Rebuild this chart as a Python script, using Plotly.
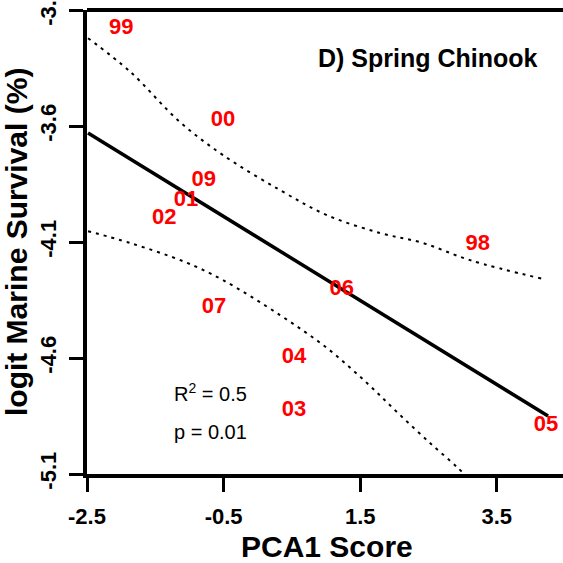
import plotly.graph_objects as go

# Data
years = ["99", "00", "09", "01", "02", "98", "06", "07", "04", "03", "05"]
pca1 = [-2.00, -0.51, -0.79, -1.05, -1.37, 3.22, 1.23, -0.64, 0.53, 0.53, 4.22]
logit_surv = [-3.18, -3.574, -3.833, -3.919, -3.997, -4.109, -4.303, -4.384, -4.596, -4.828, -4.892]

fit_x = [-2.485, 4.25]
fit_y = [-3.630, -4.850]

upper_x = [-2.485, -1.870, -1.138, -0.509, 0.326, 1.014, 1.790, 2.419, 3.108, 4.176]
upper_y = [-3.221, -3.365, -3.583, -3.725, -3.876, -3.984, -4.061, -4.104, -4.178, -4.259]

lower_x = [-2.485, -1.870, -1.065, -0.509, 0.326, 1.014, 1.600, 2.053, 2.522, 2.917, 2.990]
lower_y = [-4.053, -4.104, -4.186, -4.264, -4.415, -4.557, -4.708, -4.837, -4.966, -5.070, -5.091]

x_ticks = [-2.5, -0.5, 1.5, 3.5]
y_ticks = [-5.1, -4.6, -4.1, -3.6, -3.1]

FONT = "Arial, Liberation Sans, sans-serif"

fig = go.Figure()
fig.add_trace(go.Scatter(x=upper_x, y=upper_y, mode="lines", line_shape="spline",
                         line=dict(color="black", width=2, dash="3px,5px"), hoverinfo="skip"))
fig.add_trace(go.Scatter(x=lower_x, y=lower_y, mode="lines", line_shape="spline",
                         line=dict(color="black", width=2, dash="3px,5px"), hoverinfo="skip"))
fig.add_trace(go.Scatter(x=fit_x, y=fit_y, mode="lines",
                         line=dict(color="black", width=3.5), hoverinfo="skip"))
fig.add_trace(go.Scatter(x=pca1, y=logit_surv, mode="text", text=years,
                         textfont=dict(family=FONT, size=22, color="#ff0000", weight="bold"),
                         textposition="middle center"))

fig.add_annotation(x=0.1786, y=0.176, xref="paper", yref="paper", text="R<sup>2</sup> = 0.5",
                   xanchor="left", yanchor="middle", showarrow=False,
                   font=dict(family=FONT, size=20, color="black"))
fig.add_annotation(x=0.1786, y=0.091, xref="paper", yref="paper", text="p = 0.01",
                   xanchor="left", yanchor="middle", showarrow=False,
                   font=dict(family=FONT, size=20, color="black"))
fig.add_annotation(x=0.716, y=0.897, xref="paper", yref="paper", text="D) Spring Chinook",
                   xanchor="center", yanchor="middle", showarrow=False,
                   font=dict(family=FONT, size=25, color="black", weight="bold"))

# axis titles
fig.add_annotation(x=0.504, y=-0.1595, yshift=2, xref="paper", yref="paper", text="PCA1 Score",
                   xanchor="center", yanchor="middle", showarrow=False,
                   font=dict(family=FONT, size=30, color="black", weight="bold"))
fig.add_annotation(x=-0.126, y=0.5, xshift=-11, xref="paper", yref="paper",
                   text="logit Marine Survival (%)",
                   textangle=-90, xanchor="center", yanchor="middle", showarrow=False,
                   font=dict(family=FONT, size=30, color="black", weight="bold"))

fig.add_shape(type="line", xref="paper", yref="paper", x0=0, x1=1, y0=1, y1=1,
              line=dict(color="black", width=4))

fig.update_layout(
    width=563, height=563,
    margin=dict(l=87, r=0, t=10, b=89, autoexpand=False),
    plot_bgcolor="white", paper_bgcolor="white",
    showlegend=False,
    xaxis=dict(range=[-2.5, 4.469], tickvals=x_ticks, ticktext=[str(v) for v in x_ticks],
               showgrid=False, zeroline=False, showline=True, linecolor="black", linewidth=4,
               ticks="outside", ticklen=14, tickwidth=3, tickcolor="black", automargin=False,
               tickfont=dict(family=FONT, size=22, color="black", weight="bold"),
               ticklabelstandoff=6, ticklabeloverflow="allow"),
    yaxis=dict(range=[-5.1, -3.0995], tickvals=y_ticks, ticktext=[str(v) for v in y_ticks],
               showgrid=False, zeroline=False, showline=True, linecolor="black", linewidth=4,
               ticks="outside", ticklen=14, tickwidth=3, tickcolor="black", tickangle=-90,
               automargin=False,
               tickfont=dict(family=FONT, size=22, color="black", weight="bold"),
               ticklabelstandoff=4, ticklabeloverflow="allow"),
)

fig.write_html("out.html")
